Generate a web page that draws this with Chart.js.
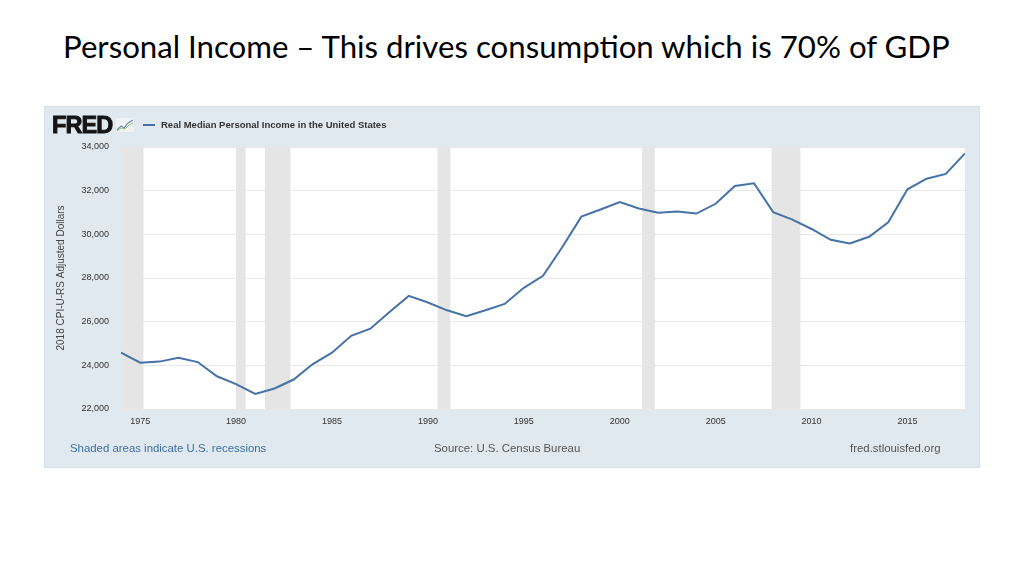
<!DOCTYPE html>
<html lang="en">
<head>
  <meta charset="UTF-8" />
  <title>Personal Income</title>
  <script src="https://cdn.jsdelivr.net/npm/chart.js"></script>
  <style>
    * { box-sizing: border-box; }
    html, body {
      margin: 0;
      padding: 0;
      width: 1024px;
      height: 576px;
      background: #ffffff;
      overflow: hidden;
    }
    .slide-title {
      position: absolute;
      left: 63px;
      top: 27px;
      font-family: 'Lato', sans-serif;
      font-size: 31.2px;
      color: #000;
      white-space: nowrap;
    }
    .panel {
      position: absolute;
      left: 44px;
      top: 106px;
      width: 936px;
      height: 362px;
      background: #e1e9f0;
      border: 1px solid #d6dfe8;
    }
    .panel canvas {
      position: absolute;
      left: 0;
      top: 0;
    }
    .logo {
      position: absolute;
      left: 7px;
      top: 5px;
      font-family: 'Liberation Sans', Arial, sans-serif;
      font-weight: 900;
      font-size: 23.5px;
      letter-spacing: -0.9px;
      color: #141414;
      -webkit-text-stroke: 0.9px #141414;
    }
    .logo svg { position: absolute; left: 64px; top: 6px; }
    .legend {
      position: absolute;
      left: 98px;
      top: 12px;
      font-family: 'Liberation Sans', Arial, sans-serif;
      font-weight: bold;
      font-size: 9.5px;
      color: #333;
      white-space: nowrap;
    }
    .legend span.swatch {
      display: inline-block;
      width: 12px;
      height: 2px;
      background: #4572a7;
      vertical-align: middle;
      margin-right: 6px;
    }
    .foot {
      position: absolute;
      top: 335px;
      font-family: 'Liberation Sans', Arial, sans-serif;
      font-size: 11.4px;
      color: #555;
      white-space: nowrap;
    }
  </style>
</head>
<body>
  <div class="slide-title">Personal Income – This drives consumption which is 70% of GDP</div>

  <div class="panel">
    <canvas id="chart" width="936" height="362"></canvas>
    <div class="logo">FRED
      <svg width="18" height="14" viewBox="0 0 18 14">
        <rect x="0" y="0" width="18" height="14" fill="#eef2f5"/>
        <polyline points="1,12 5,8 8,10 12,5 17,2" fill="none" stroke="#6a8fb5" stroke-width="1.2"/>
        <polyline points="1,13 5,10 9,11 13,7 17,5" fill="none" stroke="#9cc06a" stroke-width="1"/>
      </svg>
    </div>
    <div class="legend"><span class="swatch"></span>Real Median Personal Income in the United States</div>
    <div class="foot" style="left:25px;color:#3c6ea6;">Shaded areas indicate U.S. recessions</div>
    <div class="foot" style="left:389px;">Source: U.S. Census Bureau</div>
    <div class="foot" style="left:805px;">fred.stlouisfed.org</div>
  </div>

  <script>
    // Annual observations, 2018 CPI-U-RS adjusted dollars
    const years = [1974, 1975, 1976, 1977, 1978, 1979, 1980, 1981, 1982, 1983,
                   1984, 1985, 1986, 1987, 1988, 1989, 1990, 1991, 1992, 1993,
                   1994, 1995, 1996, 1997, 1998, 1999, 2000, 2001, 2002, 2003,
                   2004, 2005, 2006, 2007, 2008, 2009, 2010, 2011, 2012, 2013,
                   2014, 2015, 2016, 2017, 2018];
    const income = [24580, 24120, 24170, 24350, 24150, 23500, 23140, 22690, 22940, 23350,
                    24060, 24580, 25350, 25680, 26440, 27180, 26880, 26520, 26250, 26520,
                    26810, 27550, 28100, 29410, 30810, 31140, 31480, 31185, 30985, 31045,
                    30950, 31400, 32215, 32340, 31015, 30675, 30245, 29750, 29580, 29890,
                    30550, 32060, 32550, 32770, 33710];

    // Recession periods (fractional years)
    const recStart = [1973.83, 1980.0, 1981.5, 1990.5, 2001.17, 2007.92];
    const recEnd   = [1975.17, 1980.5, 1982.83, 1991.17, 2001.83, 2009.42];

    const xTicks = [1975, 1980, 1985, 1990, 1995, 2000, 2005, 2010, 2015];
    const yTicks = [22000, 24000, 26000, 28000, 30000, 32000, 34000];

    const points = years.map((y, i) => ({ x: y, y: income[i] }));

    // white plot background + recession bands
    const backdrop = {
      id: 'backdrop',
      beforeDraw(chart) {
        const { ctx, chartArea: a } = chart;
        ctx.save();
        ctx.fillStyle = '#ffffff';
        ctx.fillRect(a.left, a.top, a.right - a.left, a.bottom - a.top);
        ctx.restore();
      },
      beforeDatasetsDraw(chart) {
        const { ctx, chartArea: a, scales: { x } } = chart;
        ctx.save();
        ctx.fillStyle = '#e5e5e5';
        recStart.forEach((s, i) => {
          const l = Math.max(a.left, x.getPixelForValue(s));
          const r = Math.min(a.right, x.getPixelForValue(recEnd[i]));
          if (r > l) ctx.fillRect(l, a.top, r - l, a.bottom - a.top);
        });
        ctx.restore();
      }
    };

    new Chart(document.getElementById('chart'), {
      type: 'line',
      data: {
        datasets: [{
          label: 'Real Median Personal Income in the United States',
          data: points,
          borderColor: '#4572a7',
          borderWidth: 2,
          pointRadius: 0,
          tension: 0,
          fill: false
        }]
      },
      options: {
        responsive: false,
        animation: false,
        devicePixelRatio: 1,
        layout: { padding: { top: 40, right: 16, left: 0, bottom: 0 } },
        plugins: {
          legend: { display: false },
          tooltip: { enabled: false }
        },
        scales: {
          x: {
            type: 'linear',
            min: 1974,
            max: 2018,
            afterBuildTicks: s => { s.ticks = xTicks.map(v => ({ value: v })); },
            afterFit: s => { s.height = 60; },
            grid: { display: false, drawTicks: false },
            border: { display: false },
            ticks: {
              padding: 7,
              color: '#333',
              font: { family: 'Liberation Sans', size: 9 },
              callback: v => String(v),
              maxRotation: 0
            }
          },
          y: {
            min: 22000,
            max: 34000,
            afterBuildTicks: s => { s.ticks = yTicks.map(v => ({ value: v })); },
            afterFit: s => { s.width = 76; },
            grid: { color: '#e8e8e8', drawTicks: false },
            border: { display: false },
            ticks: {
              padding: 12,
              color: '#333',
              font: { family: 'Liberation Sans', size: 9 },
              callback: v => v.toLocaleString('en-US')
            },
            title: {
              display: true,
              text: '2018 CPI-U-RS Adjusted Dollars',
              color: '#444',
              font: { family: 'Liberation Sans', size: 10 },
              padding: { top: 10, bottom: 0 }
            }
          }
        }
      },
      plugins: [backdrop]
    });
  </script>
</body>
</html>
